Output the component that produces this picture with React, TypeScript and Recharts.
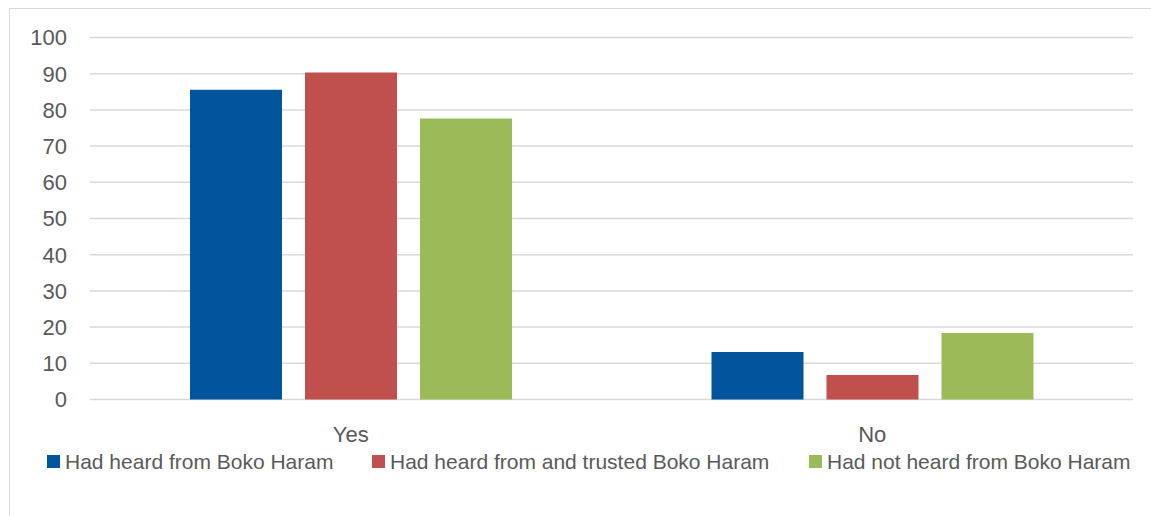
import React from "react";
import { BarChart, Bar, XAxis, YAxis, CartesianGrid, Legend } from "recharts";

const categories = ["Yes", "No"];
const heardValues = [85.6, 13.1];
const heardTrustedValues = [90.3, 6.8];
const notHeardValues = [77.6, 18.4];
const yTicks = [0, 10, 20, 30, 40, 50, 60, 70, 80, 90, 100];

const seriesNames = [
  "Had heard from Boko Haram",
  "Had heard from and trusted Boko Haram",
  "Had not heard from Boko Haram",
];
const seriesColors = ["#00559D", "#C0504D", "#9BBB59"];

const data = categories.map((c, i) => ({
  category: c,
  heard: heardValues[i],
  trusted: heardTrustedValues[i],
  notHeard: notHeardValues[i],
}));

const FONT = "'Liberation Sans', Arial, sans-serif";
const TEXT = "#595959";

const legendMarkerX = [37, 362, 799];

const LegendContent = () => (
  <div style={{ position: "relative", width: 1140, height: 33 }}>
    {seriesNames.map((name, i) => (
      <div
        key={name}
        style={{
          position: "absolute",
          left: legendMarkerX[i],
          top: 0,
          height: 33,
          display: "flex",
          alignItems: "center",
          whiteSpace: "nowrap",
        }}
      >
        <span
          style={{
            display: "inline-block",
            width: 13,
            height: 13,
            background: seriesColors[i],
            marginRight: 5,
          }}
        />
        <span style={{ fontFamily: FONT, fontSize: 21, color: TEXT, lineHeight: "33px" }}>{name}</span>
      </div>
    ))}
  </div>
);

export default function App() {
  return (
    <div style={{ position: "relative", width: 1151, height: 516, overflow: "hidden", background: "#fff" }}>
      <style>{`body{margin:0;overflow:hidden;background:#fff}`}</style>
      <div
        style={{
          position: "absolute",
          left: 9,
          top: 8,
          width: 1200,
          height: 600,
          borderLeft: "1px solid #d9d9d9",
          borderTop: "1px solid #d9d9d9",
        }}
      />
      <div style={{ position: "absolute", left: 10, top: 9 }}>
        <BarChart
          width={1140}
          height={500}
          data={data}
          margin={{ top: 28.5, right: 17, left: 20, bottom: 31.5 }}
          barSize={92}
          barGap={23}
        >
          <CartesianGrid horizontal vertical={false} stroke="#d9d9d9" strokeWidth={1.5} />
          <XAxis
            dataKey="category"
            axisLine={false}
            tickLine={false}
            tickSize={0}
            tickMargin={27}
            height={45}
            tick={{ fill: TEXT, fontSize: 22, fontFamily: FONT }}
          />
          <YAxis
            domain={[0, 100]}
            ticks={yTicks}
            axisLine={false}
            tickLine={false}
            tickSize={0}
            tickMargin={23}
            width={60}
            interval={0}
            tick={{ fill: TEXT, fontSize: 22, fontFamily: FONT }}
          />
          <Legend
            verticalAlign="bottom"
            content={<LegendContent />}
            wrapperStyle={{ left: 0, width: 1140, height: 33 }}
          />
          <Bar dataKey="heard" name={seriesNames[0]} fill={seriesColors[0]} isAnimationActive={false} />
          <Bar dataKey="trusted" name={seriesNames[1]} fill={seriesColors[1]} isAnimationActive={false} />
          <Bar dataKey="notHeard" name={seriesNames[2]} fill={seriesColors[2]} isAnimationActive={false} />
        </BarChart>
      </div>
    </div>
  );
}
